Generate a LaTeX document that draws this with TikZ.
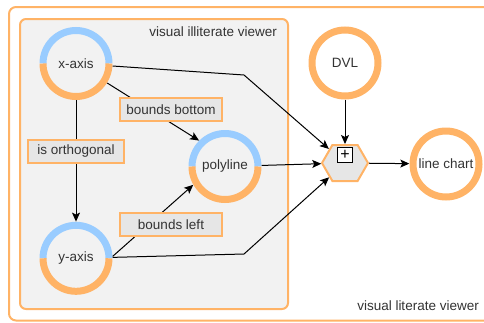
\documentclass[tikz,border=0pt]{standalone}
\usepackage{fontspec}
\setmainfont{Liberation Sans}
\usetikzlibrary{arrows.meta,shapes.symbols}
\definecolor{ring}{HTML}{FFB366}
\definecolor{sky}{HTML}{99CCFF}
\definecolor{boxfill}{HTML}{E6E6E6}
\definecolor{panel}{HTML}{F2F2F2}
\definecolor{ink}{HTML}{333333}
\begin{document}
\begin{tikzpicture}[x=1pt,y=1pt,
  font=\fontsize{13.5}{15}\selectfont, text=ink,
  conn/.style={draw=black, line width=1pt},
  arr/.style={conn, -{Stealth[length=9pt,width=8pt,inset=2pt]}},
  circ/.style={circle, minimum size=73pt, inner sep=0pt},
  lbl/.style={draw=ring, fill=boxfill, line width=2pt, minimum height=23pt, inner sep=0pt},
  ringtop/.style={draw=sky, line width=7pt},
  ringbot/.style={draw=ring, line width=7pt},
  plain/.style={inner sep=0pt, anchor=east},
  ]
\useasboundingbox (0,0) rectangle (484,-322);
% containers
\draw[ring, line width=2pt, rounded corners=7pt] (9,-7) rectangle (505,-320.5);
\draw[ring, fill=panel, line width=2pt, rounded corners=6pt] (20,-19) rectangle (288,-309);
\node[plain] (t1) at (277,-32) {visual illiterate viewer};
\node[plain] (t2) at (479,-306) {visual literate viewer};
% circle nodes
\node[circ] (xa) at (76,-63.5) {x-axis};
\node[circ] (ya) at (76,-258.3) {y-axis};
\node[circ] (poly) at (225,-166.5) {polyline};
\node[circ] (dvl) at (345,-63) {DVL};
\node[circ] (lc) at (446,-164) {line chart};
\foreach \n in {xa,ya,poly}{
  \draw[ringtop] ([shift={(33,0)}]\n.center) arc (0:180:33);
  \draw[ringbot] ([shift={(-33,0)}]\n.center) arc (180:360:33);
}
\foreach \n in {dvl,lc}{
  \draw[ringbot] (\n.center) circle (33);
}
% hexagon
\node[signal, signal to=east and west, signal pointer angle=120,
      minimum width=46pt, minimum height=36pt, inner sep=0pt,
      draw=ring, fill=boxfill, line width=2pt] (hex) at (345,-163) {};
% connectors
\coordinate (b1) at (244,-75);
\coordinate (b2) at (244,-254);
\draw[arr] (xa) -- (b1) -- (hex);
\draw[arr] (ya) -- (b2) -- (hex);
\draw[arr] (poly) -- (hex);
\draw[arr] (dvl) -- (hex);
\draw[arr] (hex) -- (lc);
\draw[arr] (xa.-32) -- (poly.135);
\draw[arr] (ya.3) -- (poly.210);
\draw[arr] (xa) -- (ya);
% plus marker
\node[draw=black, fill=white, line width=0.8pt, minimum size=15pt, inner sep=0pt, text=black,
      font=\fontsize{16}{16}\selectfont] (plus) at (345,-154.5) {+};
% edge labels
\node[lbl, minimum width=102pt] (bb) at (171,-109.5) {bounds bottom};
\node[lbl, minimum width=96pt] (io) at (76,-151.5) {is orthogonal};
\node[lbl, minimum width=102pt] (bl) at (171,-224.5) {bounds left};
\end{tikzpicture}
\end{document}
